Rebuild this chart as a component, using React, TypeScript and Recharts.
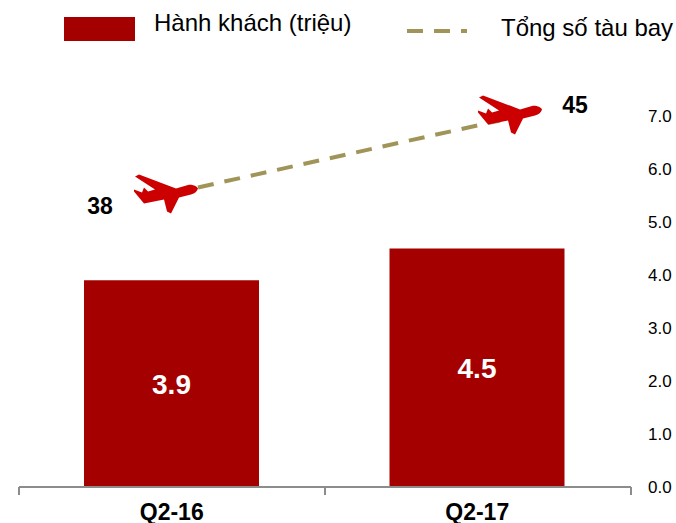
import React from "react";
import { ComposedChart, Bar, Line, XAxis, YAxis, LabelList, Legend } from "recharts";

const quarters = ["Q2-16", "Q2-17"];
const passengers = [3.9, 4.5];
const fleet = [38, 45];
const fleetPositions = [0.585, 1.572];
const passengerTicks = [0, 1, 2, 3, 4, 5, 6, 7];
const boundaryTicks = [0, 1, 2];
const seriesNames = ["Hành khách (triệu)", "Tổng số tàu bay"];

const barRows = quarters.map((quarter, i) => ({ quarter, passengers: passengers[i] }));
const lineRows = fleetPositions.map((pos, i) => ({ pos, fleet: fleet[i] }));

const FONT = '"Liberation Sans", Arial, sans-serif';
const PLANE =
  "M0,0 C-1,-2 -5,-4 -10,-3.5 L-22,0 L-59,-14 L-63,-12 L-43,1 L-50,3 L-54,-1 L-56,4 L-64,1 L-64,3 L-54,15 L-49,14 L-34,11 L-31,23 L-27,25 L-19,9 L-7,6 C-3,5 -1,3 0,0 Z";

const BoundaryTick = (props: any) => {
  const { x, y } = props;
  return <line x1={x} x2={x} y1={y + 8} y2={y + 16} stroke="#8c8c8c" strokeWidth={2} />;
};

const PlaneDot = (props: any) => {
  const { cx, cy, index, payload } = props;
  const plane = index === 0 ? { dx: 0, dy: 1, lx: -98, ly: 27 } : { dx: 42, dy: -11, lx: 75, ly: -7 };
  return (
    <g key={index}>
      <path d={PLANE} transform={`translate(${cx + plane.dx},${cy + plane.dy})`} fill="#cc0000" />
      <text x={cx + plane.lx} y={cy + plane.ly} textAnchor="middle" fontFamily={FONT} fontWeight={700} fontSize={23} fill="#000">
        {payload.fleet}
      </text>
    </g>
  );
};

const LegendBox = () => (
  <div style={{ position: "relative", width: 676, height: 50, fontFamily: FONT, fontSize: 24, lineHeight: "28px", color: "#000" }}>
    <div style={{ position: "absolute", left: 64, top: 17, width: 71, height: 24, background: "#a50000" }} />
    <div style={{ position: "absolute", left: 154, top: 9, whiteSpace: "nowrap" }}>{seriesNames[0]}</div>
    <svg style={{ position: "absolute", left: 400, top: 20 }} width={80} height={20}>
      <line x1={7} x2={67} y1={11} y2={11} stroke="#a09458" strokeWidth={4} strokeDasharray="16 11" />
    </svg>
    <div style={{ position: "absolute", left: 501, top: 14, whiteSpace: "nowrap" }}>{seriesNames[1]}</div>
  </div>
);

export default function App() {
  return (
    <div style={{ position: "absolute", left: 0, top: 0, width: 676, height: 523, background: "#fff" }}>
      <ComposedChart width={676} height={523} data={barRows} margin={{ top: 13, right: 0, bottom: 0, left: 19 }}>
        <XAxis
          xAxisId="pos"
          dataKey="pos"
          type="number"
          domain={[0, 2]}
          ticks={boundaryTicks}
          interval={0}
          mirror
          tickLine={false}
          axisLine={{ stroke: "#8c8c8c", strokeWidth: 2 }}
          tick={<BoundaryTick />}
        />
        <XAxis
          xAxisId="cat"
          dataKey="quarter"
          height={36}
          interval={0}
          padding={{ left: 0, right: 1 }}
          axisLine={false}
          tickLine={false}
          tickMargin={11}
          tick={{ fontFamily: FONT, fontWeight: 700, fontSize: 23, fill: "#000" }}
        />
        <YAxis
          yAxisId="left"
          orientation="right"
          width={45}
          domain={[0, 8]}
          ticks={passengerTicks}
          tickFormatter={(v: number) => v.toFixed(1)}
          axisLine={false}
          tickLine={false}
          tick={{ fontFamily: FONT, fontSize: 17, fill: "#000" }}
          tickMargin={11}
        />
        <YAxis yAxisId="fleet" hide domain={[6.7, 51]} />
        <Legend verticalAlign="top" content={<LegendBox />} wrapperStyle={{ position: "absolute", left: 0, top: 0, width: 676, height: 50 }} />
        <Bar xAxisId="cat" yAxisId="left" dataKey="passengers" name={seriesNames[0]} fill="#a50000" barSize={175} isAnimationActive={false}>
          <LabelList
            dataKey="passengers"
            position="center"
            formatter={(v: number) => v.toFixed(1)}
            style={{ fontFamily: FONT, fontWeight: 700, fontSize: 28, fill: "#fff" }}
          />
        </Bar>
        <Line
          xAxisId="pos"
          yAxisId="fleet"
          data={lineRows}
          dataKey="fleet"
          name={seriesNames[1]}
          stroke="#a09458"
          strokeWidth={4}
          strokeDasharray="16 11"
          dot={<PlaneDot />}
          activeDot={false}
          isAnimationActive={false}
        />
      </ComposedChart>
    </div>
  );
}
